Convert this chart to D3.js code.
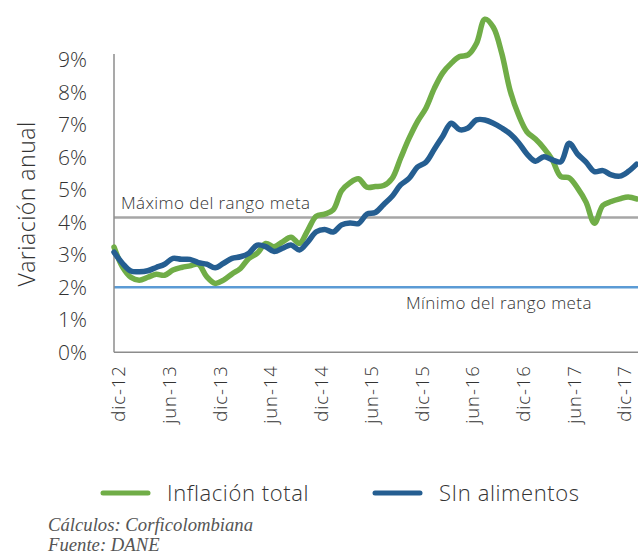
<!DOCTYPE html>
<html>
<head>
<meta charset="utf-8">
<script src="https://cdn.jsdelivr.net/npm/d3@7"></script>
<style>
  body { margin: 0; background: #fff; }
  svg text { font-family: "Open Sans", Lato, sans-serif; font-weight: 300; fill: #333; }
</style>
</head>
<body>
<div id="chart"></div>
<script>
// monthly categories, dic-12 .. feb-18
var monthNames = ["ene", "feb", "mar", "abr", "may", "jun", "jul", "ago", "sep", "oct", "nov", "dic"];
var months = d3.timeMonth.range(new Date(2012, 11, 1), new Date(2018, 2, 1)).map(function(d) {
    return monthNames[d.getMonth()] + "-" + String(d.getFullYear()).slice(2);
});

var tickLabels = ["dic-12", "jun-13", "dic-13", "jun-14", "dic-14", "jun-15", "dic-15", "jun-16", "dic-16", "jun-17", "dic-17"];
var yTicks = [0, 1, 2, 3, 4, 5, 6, 7, 8, 9];

var inflacionTotal = [3.24, 2.63, 2.31, 2.22, 2.31, 2.40, 2.37, 2.53, 2.61, 2.66, 2.71, 2.33,
    2.12, 2.22, 2.41, 2.58, 2.89, 3.05, 3.35, 3.25, 3.40, 3.54, 3.35, 3.76,
    4.19, 4.25, 4.38, 4.97, 5.22, 5.34, 5.08, 5.10, 5.13, 5.35, 5.97, 6.58,
    7.10, 7.51, 8.12, 8.60, 8.89, 9.10, 9.15, 9.50, 10.25, 10.00, 9.20, 8.05,
    7.30, 6.78, 6.56, 6.28, 5.92, 5.41, 5.37, 5.05, 4.62, 3.97, 4.52, 4.64,
    4.72, 4.78, 4.72];

var sinAlimentos = [3.08, 2.74, 2.50, 2.48, 2.51, 2.61, 2.71, 2.89, 2.86, 2.86, 2.76, 2.71,
    2.60, 2.74, 2.89, 2.94, 3.05, 3.30, 3.25, 3.10, 3.20, 3.30, 3.15, 3.40,
    3.71, 3.78, 3.70, 3.92, 3.98, 3.96, 4.25, 4.30, 4.55, 4.80, 5.15, 5.35,
    5.70, 5.85, 6.25, 6.65, 7.05, 6.85, 6.90, 7.15, 7.15, 7.05, 6.90, 6.72,
    6.45, 6.10, 5.88, 6.02, 5.92, 5.86, 6.43, 6.10, 5.85, 5.56, 5.59, 5.46,
    5.42, 5.56, 5.79];

var metaMax = 4.15;
var metaMin = 2;

var width = 638, height = 554;

var svg = d3.select("#chart").append("svg")
    .attr("width", width)
    .attr("height", height);

var x = d3.scalePoint()
    .domain(months)
    .range([114, 636.6]);

var y = d3.scaleLinear()
    .domain([0, 10])
    .range([352.3, 27.3]);

// target range lines
svg.append("line")
    .attr("x1", x.range()[0]).attr("x2", width)
    .attr("y1", y(metaMax)).attr("y2", y(metaMax))
    .attr("stroke", "#a6a6a6").attr("stroke-width", 2.5);

svg.append("line")
    .attr("x1", x.range()[0]).attr("x2", width)
    .attr("y1", y(metaMin)).attr("y2", y(metaMin))
    .attr("stroke", "#5b9bd5").attr("stroke-width", 2.5);

svg.append("text")
    .attr("x", 121).attr("y", y(metaMax) - 8)
    .style("font-size", "17px")
    .style("letter-spacing", "0.4px")
    .text("Máximo del rango meta");

svg.append("text")
    .attr("x", 406).attr("y", y(metaMin) + 22)
    .style("font-size", "17px")
    .style("letter-spacing", "0.4px")
    .text("Mínimo del rango meta");

// axes
var yAxis = svg.append("g")
    .attr("transform", "translate(114,0)")
    .call(d3.axisLeft(y).tickValues(yTicks).tickSize(0).tickPadding(27)
        .tickFormat(function(d) { return d + "%"; }));
yAxis.select(".domain").remove();
yAxis.selectAll("text")
    .style("font-family", "\"Open Sans\", sans-serif")
    .style("font-size", "21px").style("fill", "#333");

svg.append("line")
    .attr("x1", 114).attr("x2", 114)
    .attr("y1", y(0)).attr("y2", 54)
    .attr("stroke", "#8c8c8c").attr("stroke-width", 1.5);

svg.append("line")
    .attr("x1", 114).attr("x2", width)
    .attr("y1", y(0)).attr("y2", y(0))
    .attr("stroke", "#8c8c8c").attr("stroke-width", 1.5);

var xAxis = svg.append("g")
    .attr("transform", "translate(0," + y(0) + ")")
    .call(d3.axisBottom(x).tickValues(tickLabels).tickSize(0));
xAxis.select(".domain").remove();
xAxis.selectAll("text")
    .style("font-family", "\"Open Sans\", sans-serif")
    .style("font-size", "18.5px")
    .style("letter-spacing", "0.9px")
    .style("fill", "#333")
    .attr("text-anchor", "end")
    .attr("transform", "translate(5,13) rotate(-90)")
    .attr("x", 0).attr("y", 0).attr("dy", "0.32em");

// series lines
var line = d3.line()
    .x(function(d, i) { return x(months[i]); })
    .y(function(d) { return y(d); })
    .curve(d3.curveCatmullRom.alpha(0.5));

svg.append("path")
    .datum(inflacionTotal)
    .attr("d", line)
    .attr("fill", "none")
    .attr("stroke", "#70ad47")
    .attr("stroke-width", 5.5)
    .attr("stroke-linejoin", "round")
    .attr("stroke-linecap", "round");

svg.append("path")
    .datum(sinAlimentos)
    .attr("d", line)
    .attr("fill", "none")
    .attr("stroke", "#255e91")
    .attr("stroke-width", 5.5)
    .attr("stroke-linejoin", "round")
    .attr("stroke-linecap", "round");

// y title
svg.append("text")
    .attr("transform", "translate(35,204) rotate(-90)")
    .attr("text-anchor", "middle")
    .style("font-size", "23px")
    .style("letter-spacing", "0.5px")
    .text("Variación anual");

// legend
var legend = [
    {name: "Inflación total", color: "#70ad47", x: 103},
    {name: "SIn alimentos", color: "#255e91", x: 375}
];
legend.forEach(function(l) {
    svg.append("line")
        .attr("x1", l.x).attr("x2", l.x + 45)
        .attr("y1", 493).attr("y2", 493)
        .attr("stroke", l.color).attr("stroke-width", 5)
        .attr("stroke-linecap", "round");
    svg.append("text")
        .attr("x", l.x + 64).attr("y", 501)
        .style("font-size", "22px")
        .style("letter-spacing", "0.6px")
        .text(l.name);
});

// source notes
svg.append("text")
    .attr("x", 48).attr("y", 531)
    .style("font-family", "'Liberation Serif', serif")
    .style("font-style", "italic")
    .style("font-weight", "400")
    .style("font-size", "18.7px")
    .style("fill", "#555")
    .text("Cálculos: Corficolombiana");

svg.append("text")
    .attr("x", 48).attr("y", 551)
    .style("font-family", "'Liberation Serif', serif")
    .style("font-style", "italic")
    .style("font-weight", "400")
    .style("font-size", "18.7px")
    .style("fill", "#555")
    .text("Fuente: DANE");
</script>
</body>
</html>
